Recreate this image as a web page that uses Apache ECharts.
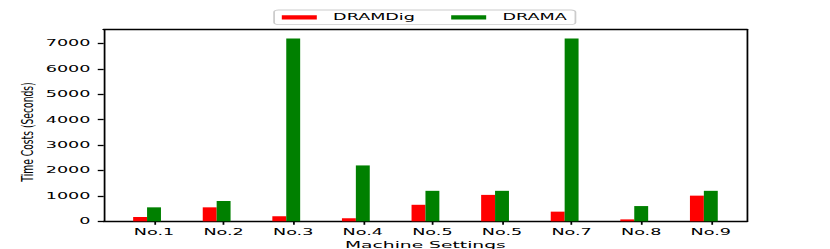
<!DOCTYPE html>
<html><head><meta charset="utf-8">
<script src="https://cdn.jsdelivr.net/npm/echarts@6/dist/echarts.min.js"></script>
<style>
html,body{margin:0;padding:0;background:#fff;overflow:hidden}
#wrap{width:830px;height:249px;overflow:hidden}
#chart{width:377px;height:249px;transform:scaleX(2.2016);transform-origin:0 0}
</style>
</head><body><div id="wrap"><div id="chart"></div></div>
<script>
// Data
const categories = ['No.1', 'No.2', 'No.3', 'No.4', 'No.5', 'No.5', 'No.7', 'No.8', 'No.9'];
const dramdigTimes = [170, 550, 200, 120, 650, 1040, 380, 75, 1010];
const dramaTimes = [550, 800, 7200, 2200, 1200, 1200, 7200, 600, 1200];
const yTicks = [0, 1000, 2000, 3000, 4000, 5000, 6000, 7000];
const xTicks = categories.map((_, i) => i);

const groupOffset = -0.1; // bar group centre relative to tick (tick sits on the DRAMA bar)
const FONT = '"DejaVu Sans", sans-serif';

const chart = echarts.init(document.getElementById('chart'), null, { renderer: 'svg' });

const xMin = -0.723, xMax = 8.52, yMax = 7560;

chart.setOption({
  animation: false,
  backgroundColor: '#ffffff',
  grid: { left: 47.1, right: 37.7, top: 29.3, bottom: 27.7, containLabel: false, outerBoundsMode: 'none' },
  legend: {
    data: ['DRAMDig', 'DRAMA'],
    left: 124.5, top: 10,
    icon: 'rect',
    itemWidth: 15.9, itemHeight: 4.3, itemGap: 16.4,
    padding: [3.3, 3.9, 3.3, 3.5],
    borderColor: '#cccccc', borderWidth: 0.8, borderRadius: 2,
    backgroundColor: '#ffffff',
    textStyle: { fontSize: 8, fontFamily: FONT, color: '#000', padding: [0, 0, 0, 2.4] }
  },
  xAxis: [{
    type: 'value', min: xMin, max: xMax,
    name: 'Machine Settings', nameLocation: 'middle', nameGap: 19.5,
    nameTextStyle: { fontSize: 8.5, fontFamily: FONT, color: '#000' },
    axisLine: { show: true, onZero: false, lineStyle: { color: '#000', width: 1.3 } },
    axisTick: { show: true, length: 3.5, customValues: xTicks, lineStyle: { color: '#000', width: 0.8 } },
    axisLabel: {
      customValues: xTicks, margin: 6.5, fontSize: 8, fontFamily: FONT, color: '#000',
      formatter: v => categories[Math.round(v)]
    },
    splitLine: { show: false }
  }, {
    type: 'value', min: xMin, max: xMax, position: 'top',
    axisLine: { show: true, onZero: false, lineStyle: { color: '#000', width: 1.3 } },
    axisTick: { show: false }, axisLabel: { show: false }, splitLine: { show: false }
  }],
  yAxis: [{
    type: 'value', min: 0, max: yMax,
    axisLine: { show: true, onZero: false, lineStyle: { color: '#000', width: 0.8 } },
    axisTick: { show: true, length: 2.7, customValues: yTicks, lineStyle: { color: '#000', width: 1.3 } },
    axisLabel: {
      customValues: yTicks, margin: 6, fontSize: 8, fontFamily: FONT, color: '#000',
      formatter: v => String(v)
    },
    splitLine: { show: false }
  }, {
    type: 'value', min: 0, max: yMax, position: 'right',
    axisLine: { show: true, onZero: false, lineStyle: { color: '#000', width: 0.8 } },
    axisTick: { show: false }, axisLabel: { show: false }, splitLine: { show: false }
  }],
  graphic: [{
    type: 'text',
    x: 12.3, y: 132,
    rotation: Math.PI / 2,
    scaleX: 1, scaleY: 0.75,
    style: {
      text: 'Time Costs (Seconds)',
      font: '9.2px "DejaVu Sans", sans-serif',
      fill: '#000',
      textAlign: 'center', textVerticalAlign: 'middle',
      align: 'center', verticalAlign: 'middle'
    }
  }],
  series: [{
    name: 'DRAMDig', type: 'bar', xAxisIndex: 0, yAxisIndex: 0,
    barWidth: 6.32, barGap: '0%',
    itemStyle: { color: '#ff0000' },
    data: dramdigTimes.map((v, i) => [xTicks[i] + groupOffset, v])
  }, {
    name: 'DRAMA', type: 'bar', xAxisIndex: 0, yAxisIndex: 0,
    barWidth: 6.32, barGap: '0%',
    itemStyle: { color: '#008000' },
    data: dramaTimes.map((v, i) => [xTicks[i] + groupOffset, v])
  }]
});
</script>
</body></html>
